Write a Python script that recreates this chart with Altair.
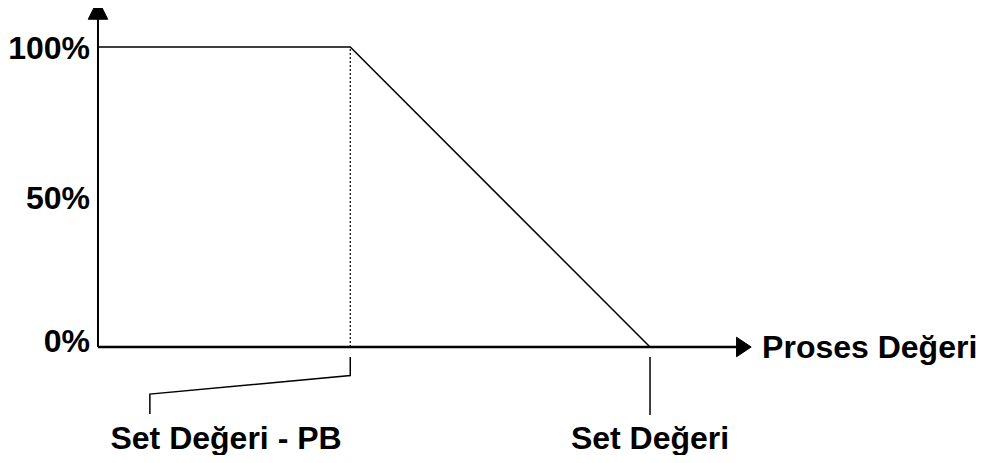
import altair as alt
import pandas as pd

# ---- values ----
tick_values = [100, 50]
tick_labels = ["100%", "50%"]
zero_value = [0]
zero_label = ["0%"]

curve_x = [0, 45.7, 100]          # process value (origin .. PB .. setpoint)
curve_y = [100, 100, 0]           # output %

pb_value = 45.7
set_value = 100

axis_x_end = 117.0
axis_y_end = 112.5

callout_group = ["pb", "pb", "pb", "pb", "set", "set"]
callout_order = [0, 1, 2, 3, 0, 1]
callout_x = [45.7, 45.7, 9.4, 9.4, 100, 100]
callout_y = [-3.3, -9.5, -15.7, -22.3, -3.3, -22.7]

bottom_labels = ["Set Değeri - PB", "Set Değeri"]
bottom_x = [23.2, 100]
bottom_y = [-34, -34]

x_axis_title = "Proses Değeri"
x_title_pos = 120.3

FONT = "Liberation Sans"
FS = 32

xs = alt.Scale(domain=[-16.3, 160.5], nice=False, zero=False)
ys = alt.Scale(domain=[-36, 113], nice=False, zero=False)

def X(f="x"):
    return alt.X(f"{f}:Q", scale=xs, axis=None)

def Y(f="y"):
    return alt.Y(f"{f}:Q", scale=ys, axis=None)

# axes lines
yaxis = alt.Chart(pd.DataFrame({"x": [0], "y": [0], "y2": [axis_y_end]})).mark_rule(
    color="black", strokeWidth=2
).encode(x=X(), y=Y(), y2="y2:Q")

xaxis = alt.Chart(pd.DataFrame({"x": [0], "x2": [axis_x_end], "y": [0]})).mark_rule(
    color="black", strokeWidth=2.5
).encode(x=X(), x2="x2:Q", y=Y())

curve = alt.Chart(pd.DataFrame({"x": curve_x, "y": curve_y, "o": list(range(len(curve_x)))})).mark_line(
    color="black", strokeWidth=1.5
).encode(x=X(), y=Y(), order="o:Q")

dotted = alt.Chart(pd.DataFrame({"x": [pb_value], "y": [0], "y2": [100]})).mark_rule(
    color="black", strokeWidth=1.2, strokeDash=[2, 2]
).encode(x=X(), y=Y(), y2="y2:Q")

callouts = alt.Chart(pd.DataFrame({"x": callout_x, "y": callout_y, "g": callout_group, "o": callout_order})).mark_line(
    color="black", strokeWidth=1.5
).encode(x=X(), y=Y(), detail="g:N", order="o:Q")

up_arrow = alt.Chart(pd.DataFrame({"x": [0], "y": [axis_y_end]})).mark_point(
    shape="M0,-1L1,1L-1,1Z", filled=True, fill="black", stroke="black", opacity=1, size=380, strokeWidth=1
).encode(x=X(), y=Y())

right_arrow = alt.Chart(pd.DataFrame({"x": [axis_x_end], "y": [0]})).mark_point(
    shape="M0.75,0L-0.75,1L-0.75,-1Z", filled=True, fill="black", stroke="black", opacity=1, size=380, strokeWidth=1
).encode(x=X(), y=Y())

ticks = alt.Chart(pd.DataFrame({"x": [-1.45] * len(tick_values), "y": tick_values, "t": tick_labels})).mark_text(
    font=FONT, fontSize=FS, fontWeight="bold", align="right", baseline="middle", color="black", dy=2
).encode(x=X(), y=Y(), text="t:N")

zero_tick = alt.Chart(pd.DataFrame({"x": [-1.45], "y": zero_value, "t": zero_label})).mark_text(
    font=FONT, fontSize=FS, fontWeight="bold", align="right", baseline="middle", color="black", dy=-5
).encode(x=X(), y=Y(), text="t:N")

xtitle = alt.Chart(pd.DataFrame({"x": [x_title_pos], "y": [0], "t": [x_axis_title]})).mark_text(
    font=FONT, fontSize=FS, fontWeight="bold", align="left", baseline="middle", color="black", dy=1
).encode(x=X(), y=Y(), text="t:N")

bottom = alt.Chart(pd.DataFrame({"x": bottom_x, "y": bottom_y, "t": bottom_labels})).mark_text(
    font=FONT, fontSize=FS, fontWeight="bold", align="center", baseline="alphabetic", color="black"
).encode(x=X(), y=Y(), text="t:N")

chart = alt.layer(
    dotted, curve, callouts, yaxis, xaxis, up_arrow, right_arrow, ticks, zero_tick, xtitle, bottom
).properties(
    width=976, height=447, autosize=alt.AutoSizeParams(type="none"), padding=0
).configure_view(stroke=None)

chart.save("out.html", embed_options={"renderer": "svg", "actions": False})
